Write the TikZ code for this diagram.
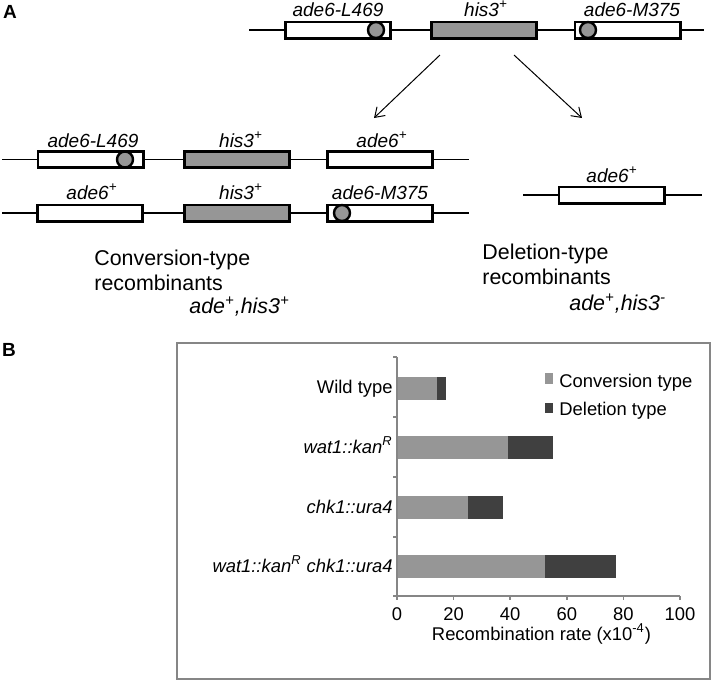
\documentclass[tikz,border=0pt]{standalone}
\usepackage{fontspec}
\setmainfont{Liberation Sans}
\usetikzlibrary{arrows.meta}
\definecolor{boxgrey}{HTML}{969696}
\definecolor{convgrey}{HTML}{969696}
\definecolor{delgrey}{HTML}{404040}
\definecolor{axisgrey}{HTML}{868686}

\begin{document}
\begin{tikzpicture}[x=0.5pt,y=-0.5pt,
        gene/.style={draw,line width=1.4pt,fill=white,minimum width=52.6pt,minimum height=8.1pt,inner sep=0pt},
        his/.style={gene,fill=boxgrey},
        mut/.style={circle,draw,line width=1.2pt,fill=boxgrey,minimum size=8pt,inner sep=0pt},
        chrom/.style={line width=0.6pt},
        arr/.style={line width=0.5pt,-{Straight Barb[length=4.5pt,width=6pt]}},
        gname/.style={anchor=base,inner sep=0pt,font=\fontsize{9.5}{11}\selectfont\itshape},
        txt/.style={anchor=base west,inner sep=0pt,font=\fontsize{10.7}{13}\selectfont},
        geno/.style={txt,font=\fontsize{10.7}{13}\selectfont\itshape},
        panel/.style={inner sep=0pt,font=\fontsize{9.5}{11}\selectfont\bfseries},
        chart/.style={inner sep=0pt,font=\fontsize{9.2}{11}\selectfont},
        axis/.style={draw=axisgrey,line width=0.75pt}]
                \useasboundingbox (0,0) rectangle (714,682);

                \node[panel] (pa) at (10,12) {A};
                \node[panel] (pb) at (9,350) {B};

                \coordinate (r1a) at (249,30);
                \coordinate (r1b) at (704,30);
                \node[gene] (g11) at (338,30) {};
                \node[his]  (g12) at (484,30) {};
                \node[gene] (g13) at (627.5,30) {};
                \draw[chrom] (r1a) -- (g11) -- (g12) -- (g13) -- (r1b);
                \node[mut] (m11) at (376,30) {};
                \node[mut] (m13) at (588,30) {};
                \node[gname] (n11) at (338,16.5) {ade6-L469};
                \node[gname] (n12) at (486,16.5) {his3\textsuperscript{+}};
                \node[gname] (n13) at (632,16.5) {ade6-M375};

                \coordinate (s1) at (440,55);
                \coordinate (e1) at (374,118);
                \coordinate (s2) at (514,55);
                \coordinate (e2) at (582,118);
                \draw[arr] (s1) -- (e1);
                \draw[arr] (s2) -- (e2);

                \coordinate (r2a) at (2,159.5);
                \coordinate (r2b) at (469,159.5);
                \node[gene] (g21) at (90.5,159.5) {};
                \node[his]  (g22) at (237,159.5) {};
                \node[gene] (g23) at (380,159.5) {};
                \draw[chrom] (r2a) -- (g21) -- (g22) -- (g23) -- (r2b);
                \node[mut] (m21) at (125,159.5) {};
                \node[gname] (n21) at (93,147) {ade6-L469};
                \node[gname] (n22) at (241,147) {his3\textsuperscript{+}};
                \node[gname] (n23) at (382,147) {ade6\textsuperscript{+}};

                \coordinate (r3a) at (2,213);
                \coordinate (r3b) at (469,213);
                \node[gene] (g31) at (90,213) {};
                \node[his]  (g32) at (237,213) {};
                \node[gene] (g33) at (380,213) {};
                \draw[chrom] (r3a) -- (g31) -- (g32) -- (g33) -- (r3b);
                \node[mut] (m33) at (342,213) {};
                \node[gname] (n31) at (92,199) {ade6\textsuperscript{+}};
                \node[gname] (n32) at (241,199) {his3\textsuperscript{+}};
                \node[gname] (n33) at (380,199) {ade6-M375};

                \coordinate (r4a) at (523,195);
                \coordinate (r4b) at (702,195);
                \node[gene] (g41) at (611.5,195) {};
                \draw[chrom] (r4a) -- (g41) -- (r4b);
                \node[gname] (n41) at (612,182) {ade6\textsuperscript{+}};

                \node[txt]  (c1) at (94,265) {Conversion-type};
                \node[txt]  (c2) at (94,290) {recombinants};
                \node[geno] (c3) at (189,313) {ade\textsuperscript{+},his3\textsuperscript{+}};
                \node[txt]  (d1) at (482,259) {Deletion-type};
                \node[txt]  (d2) at (482,284) {recombinants};
                \node[geno] (d3) at (569,310) {ade\textsuperscript{+},his3\textsuperscript{-}};

                \draw[axisgrey,line width=0.8pt] (177,343) rectangle (710,679);
                \foreach \y/\c/\t in {388/14.3/17.3,447.5/39.3/55.2,507/25.2/37.6,566.5/52.4/77.3} {
                    \fill[convgrey] (397,\y-11.5) rectangle ({397+2.83*\c},\y+11.5);
                    \fill[delgrey] ({397+2.83*\c},\y-11.5) rectangle ({397+2.83*\t},\y+11.5);
                }
                \draw[axis] (397,357) -- (397,596) -- (680,596);
                \foreach \y in {357,417,477,537,596}
                    \draw[axis] (393,\y) -- (397,\y);
                \foreach \v in {0,20,...,100} {
                    \draw[axis] ({397+2.83*\v},596) -- ({397+2.83*\v},600);
                    \node[chart,anchor=base] (t\v) at ({397+2.83*\v},620) {\v};
                }
                \node[chart,anchor=base east] (wt) at (393,393) {Wild type};
                \node[chart,anchor=base east] (wk) at (393,453) {\itshape wat1::kan\textsuperscript{R}};
                \node[chart,anchor=base east] (ck) at (393,513) {\itshape chk1::ura4};
                \node[chart,anchor=base east] (wc) at (393,572) {\itshape wat1::kan\textsuperscript{R} chk1::ura4};
                \node[chart,anchor=base] (xt) at (541.5,640) {Recombination rate (x10\textsuperscript{-4})};

                \fill[convgrey] (545,373) rectangle (553,384);
                \node[chart,anchor=base west] (lc) at (559,387) {Conversion type};
                \fill[delgrey] (545,403) rectangle (553,413);
                \node[chart,anchor=base west] (ld) at (559,415) {Deletion type};
            \end{tikzpicture}
\end{document}
